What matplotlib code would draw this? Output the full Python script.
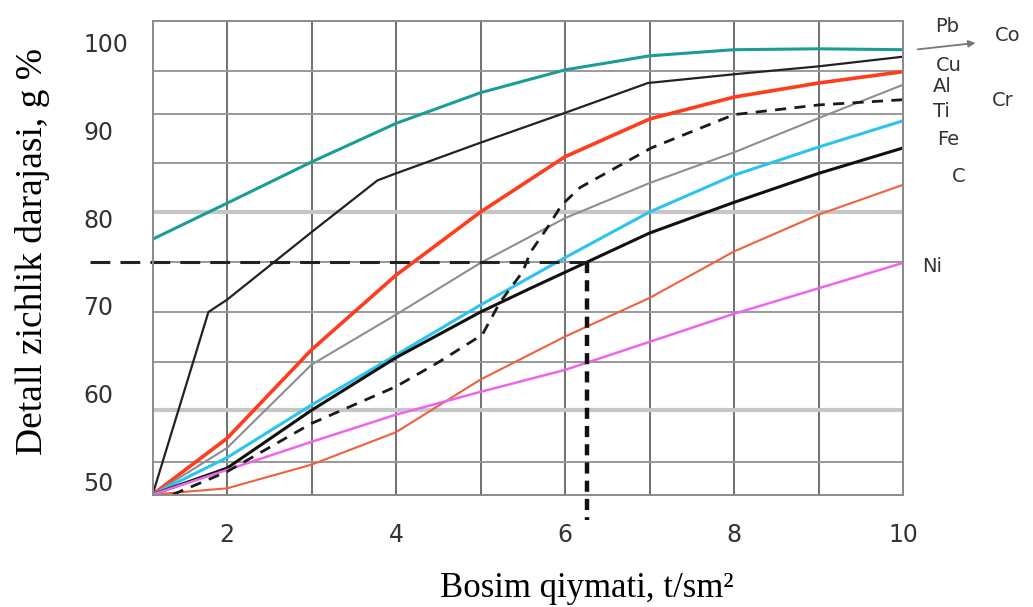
import matplotlib
matplotlib.use("Agg")
import matplotlib.pyplot as plt

# Bosim (t/sm2) va zichlik (%) qiymatlari, rasmdan o'qilgan
x_std = [1.12, 2, 3, 4, 5, 6, 7, 8, 9, 10]

teal_y = [77.6, 81.7, 86.4, 90.8, 94.3, 96.9, 98.5, 99.2, 99.3, 99.2]

black_thin_x = [1.12, 1.78, 2, 3, 3.78, 4, 5, 6, 6.98, 8, 9, 10]
black_thin_y = [48.5, 69.3, 70.7, 78.4, 84.3, 85.1, 88.6, 92.0, 95.4, 96.4, 97.3, 98.4]

red_y = [48.5, 54.9, 65.0, 73.5, 80.7, 87.0, 91.3, 93.8, 95.4, 96.7]
gray_y = [48.5, 53.8, 63.3, 69.0, 74.9, 80.0, 84.0, 87.5, 91.4, 95.2]
cyan_y = [48.5, 52.7, 58.7, 64.4, 70.1, 75.5, 80.7, 84.9, 88.1, 91.1]

black_x = [1.12, 2, 3, 4, 5, 5.59, 6.24, 7, 8, 9, 10]
black_y = [48.5, 51.5, 58.1, 64.1, 69.3, 72.0, 74.9, 78.3, 81.8, 85.1, 88.0]

orange_y = [48.5, 49.2, 51.9, 55.6, 61.6, 66.5, 70.9, 76.2, 80.4, 83.8]
magenta_y = [48.5, 51.3, 54.5, 57.6, 60.2, 62.7, 65.9, 69.1, 72.0, 74.9]

dash_x = [1.36, 2, 3, 4, 4.49, 5.02, 5.23, 5.5, 5.59, 5.79, 5.96, 6.18, 7.02, 8, 9, 10]
dash_y = [48.5, 51.1, 56.6, 60.8, 63.5, 66.7, 70.4, 73.9, 76.1, 78.9, 81.5, 83.5, 88.0, 91.8, 92.9, 93.5]

# o'qish chizig'i: 75 % zichlik -> 6.25 t/sm2
ref_x = 6.26
ref_y = 75

x_labels = [2, 4, 6, 8, 10]
y_labels = [50, 60, 70, 80, 90, 100]

metals = ["Pb", "Co", "Cu", "Al", "Ti", "Cr", "Fe", "C", "Ni"]
metal_x = [10.52, 11.24, 10.54, 10.47, 10.46, 11.18, 10.54, 10.66, 10.34]
metal_y = [101.8, 100.8, 97.4, 95.0, 92.1, 93.4, 89.0, 84.7, 74.5]

# setkaning gorizontal chiziqlari (rasmdagi joylashuvi)
grid_y = [52.2, 58.1, 63.6, 69.3, 75.0, 80.7, 86.3, 91.9, 96.8]

fig = plt.figure(figsize=(10.33, 6.07), dpi=100)
ax = fig.add_axes([0.1481, 0.1845, 0.7261, 0.7809])
ax.set_xlim(1.124, 10.0)
ax.set_ylim(48.44, 102.47)

# setka
ax.set_xticks(x_labels)
ax.set_xticks([3, 5, 7, 9], minor=True)
ax.set_yticks(y_labels)
ax.set_yticks(grid_y, minor=True)
ax.grid(True, axis='x', which='both', color='#707070', lw=1.4)
ax.grid(True, axis='y', which='minor', color='#9a9a9a', lw=1.4)
ax.grid(False, axis='y', which='major')
for i, t in enumerate(ax.yaxis.get_minor_ticks()):
    if i in (1, 5):
        t.gridline.set_color('#c6c6c6')
        t.gridline.set_linewidth(3.0)
ax.set_axisbelow(True)
for s in ax.spines.values():
    s.set_color('#8a8a8a')
    s.set_linewidth(1.4)

ax.tick_params(which='both', length=0)
ax.tick_params(axis='y', pad=50, labelsize=17, labelcolor='#333333')
ax.tick_params(axis='x', pad=20, labelsize=17, labelcolor='#333333')
for lab in ax.get_yticklabels():
    lab.set_horizontalalignment('left')

# egri chiziqlar
ax.plot(x_std, teal_y, color='#1a9e94', lw=2.2)
ax.plot(black_thin_x, black_thin_y, color='#222222', lw=1.6)
ax.plot(x_std, red_y, color='#ff3c1c', lw=2.6)
ax.plot(x_std, gray_y, color='#8e8e8e', lw=1.5)
ax.plot(x_std, cyan_y, color='#2cc3ef', lw=2.2)
ax.plot(black_x, black_y, color='#111111', lw=2.2)
ax.plot(x_std, orange_y, color='#f0603e', lw=1.5)
ax.plot(x_std, magenta_y, color='#ec66ec', lw=1.8)
ax.plot(dash_x, dash_y, color='#1a1a1a', lw=2.0, linestyle=(0, (4, 3)))

# 75 % ni ko'rsatuvchi shtrix chiziqlar
ax.plot([0.38, ref_x], [ref_y, ref_y], color='#222222', lw=2.2,
        linestyle=(0, (6.5, 3.3)), clip_on=False)
ax.plot([ref_x, ref_x], [ref_y, 45.6], color='#111111', lw=3.2,
        linestyle=(0, (2.5, 1.6)), clip_on=False)

# metallar nomi
for name, mx, my in zip(metals, metal_x, metal_y):
    ax.text(mx, my, name, fontsize=14, color='#333333', ha='center',
            va='center', clip_on=False)
ax.annotate('', xy=(10.89, 100.0), xytext=(10.14, 99.2),
            arrowprops=dict(arrowstyle='-|>', color='#777777', lw=1.3,
                            mutation_scale=10), annotation_clip=False)

fig.text(0.031, 0.585, 'Detall zichlik darajasi, g %', rotation=90,
         ha='center', va='center', fontsize=27, family='Liberation Serif')
fig.text(0.568, 0.031, 'Bosim qiymati, t/sm²', ha='center', va='center',
         fontsize=25, family='Liberation Serif')

fig.savefig('out.png', dpi=100)
